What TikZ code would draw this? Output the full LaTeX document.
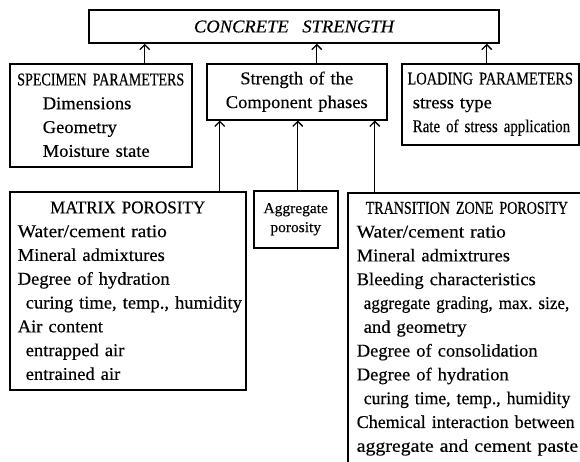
\documentclass[tikz,border=0pt]{standalone}
\usepackage{fontspec}
\setmainfont{Liberation Serif}[FakeStretch=1.03, FakeBold=0.4]
\usepackage{tikz}
\usetikzlibrary{arrows.meta}
\usetikzlibrary{positioning}
\newcommand{\squeeze}[2]{{\fontspec{Liberation Serif}[FakeStretch=#1, FakeBold=0.4]#2}}
\newcommand{\headline}[1]{\makebox[\linewidth]{#1}}
\newcommand{\indsp}{\hspace*{7pt}}
\frenchspacing

\begin{document}
\begin{tikzpicture}[
		x=1pt,
		y=-1pt,
		line width=1.5pt,
		>={Straight Barb[length=5pt,width=10pt]}
		]
		\tikzstyle{box}=[
			draw,
			anchor=north west,
			align=left,
			inner xsep=8pt,
			inner ysep=0pt,
			font=\fontsize{18}{23.8}\selectfont
		]
		\tikzstyle{arrow}=[
			->,
			line width=1.3pt
		]
		\useasboundingbox (0,0) rectangle (580,461);
		\clip (0,0) rectangle (580,461);
		% Draw the top box.
			\node[box, anchor=center, align=center, minimum width=410pt, minimum height=33pt, font=\fontsize{18}{22}\selectfont\itshape] (conc) at (294,26.5) {CONCRETE\hspace{0.5em} STRENGTH};
		% Draw the three boxes of the middle row.
			\node[box, text width=166pt, minimum height=103pt] (spec) at (9,63) {\headline{\squeeze{0.78}{SPECIMEN PARAMETERS}}\\ \hspace*{25pt}Dimensions\\ \hspace*{25pt}Geometry\\ \hspace*{25pt}Moisture state};
			\node[box, align=center, text width=164pt, minimum height=56pt] (comp) at (206,63) {Strength of the\\ Component phases};
			\node[box, inner xsep=6pt, text width=165pt, minimum height=81pt] (load) at (401,63) {\headline{\squeeze{0.8}{LOADING PARAMETERS}}\\ \hspace*{5pt}stress type\\ \mbox{\hspace*{5pt}\squeeze{0.83}{Rate of stress application}}};
		% Draw the three boxes of the bottom row.
			\node[box, text width=220pt, minimum height=198pt] (mat) at (9,191) {\headline{\squeeze{0.95}{MATRIX POROSITY}}\\ \squeeze{1.08}{Water/cement ratio}\\ Mineral admixtures\\ Degree of hydration\\ \mbox{\hspace*{8pt}curing time, temp., humidity}\\ Air content\\ \hspace*{8pt}entrapped air\\ \hspace*{8pt}entrained air};
			\node[box, align=center, inner xsep=4pt, text width=76pt, minimum height=57pt, font=\fontsize{15}{19}\selectfont] (agg) at (253,190) {Aggregate\\ porosity};
			\node[box, inner xsep=9pt, text width=225pt, minimum height=272pt] (trans) at (347,192) {\hspace*{9pt}\squeeze{0.78}{TRANSITION ZONE POROSITY}\\ \squeeze{1.08}{Water/cement ratio}\\ Mineral admixtrures\\ Bleeding characteristics\\ \mbox{\indsp\squeeze{0.95}{aggregate grading, max. size,}}\\ \indsp and geometry\\ Degree of consolidation\\ Degree of hydration\\ \mbox{\indsp\squeeze{0.98}{curing time, temp., humidity}}\\ \mbox{\squeeze{1.0}{Chemical interaction between}}\\ \mbox{\squeeze{1.1}{aggregate and cement paste}}};
		% Connect the middle row with the top box.
			\foreach \name/\dx in {spec/44, comp/20, load/-3.5}{
				\coordinate (\name-up) at ([xshift=\dx pt]\name.north);
				\draw[arrow] (\name-up) -- (\name-up |- conc.south);
			}
		% Connect the bottom row with the strength box.
			\foreach \name/\dx in {mat/92, agg/2, trans/-94.5}{
				\coordinate (\name-up) at ([xshift=\dx pt]\name.north);
				\draw[arrow] (\name-up) -- (\name-up |- comp.south);
			}
	\end{tikzpicture}
\end{document}
